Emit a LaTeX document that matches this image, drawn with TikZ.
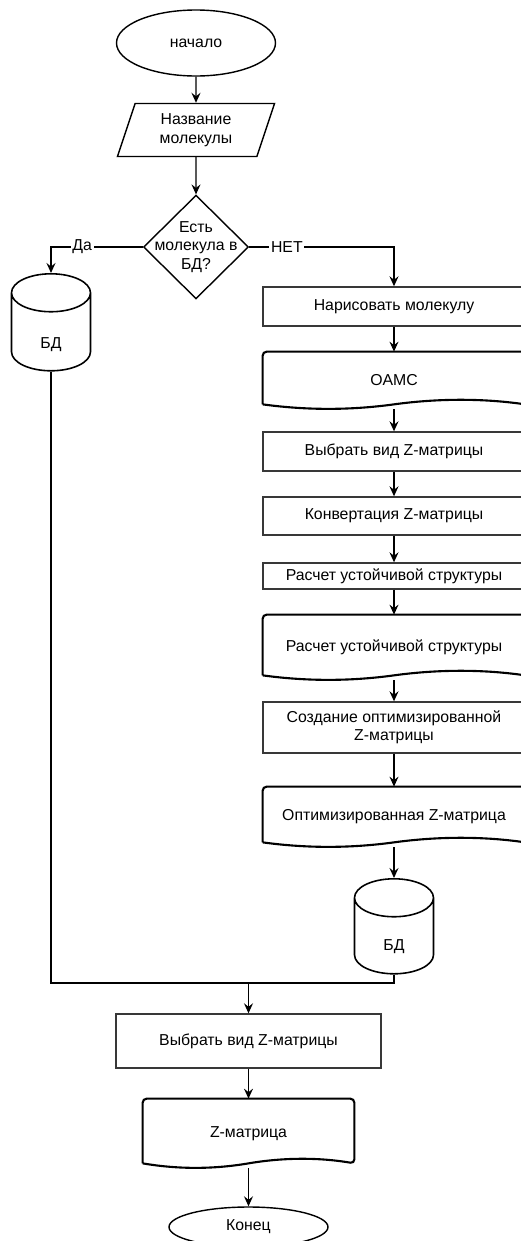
\documentclass[tikz,border=0pt]{standalone}
\usepackage{fontspec}
\setmainfont{Liberation Sans}
\usepackage{tikz}
\usetikzlibrary{
	arrows.meta,
	calc,
	shapes,
}
\definecolor{boxline}{rgb}{0.22, 0.22, 0.22}

% outline of a document block around a named node
\newcommand{\docoutline}[1]{%
\draw[line width=1.2pt] ($(#1.south west)+(0,1mm)$) [rounded corners=0.8mm] -- (#1.north west) -- (#1.north east)
	-- ($(#1.south east)+(0,1mm)$) [sharp corners]
	.. controls ($(#1.south west)!0.8333!(#1.south east)+(0,2.2mm)$) and ($(#1.south west)!0.6667!(#1.south east)+(0,2.2mm)$) .. ($(#1.south)+(0,1mm)$)
	.. controls ($(#1.south west)!0.3333!(#1.south east)+(0,-0.2mm)$) and ($(#1.south west)!0.1667!(#1.south east)+(0,-0.2mm)$) .. ($(#1.south west)+(0,1mm)$);}

\begin{document}
\begin{tikzpicture}[x=0.2mm, y=-0.2mm,
	every node/.style={font=\fontsize{9}{10.5}\selectfont, align=center},
	line/.style={draw, line width=0.8pt, -{Stealth[length=2mm, width=1.8mm, inset=0.7mm]}},
	proc/.style={rectangle, draw=boxline, line width=0.8pt, minimum width=52.4mm, inner sep=1pt},
	term/.style={ellipse, draw, line width=0.8pt, minimum width=31.8mm},
	base/.style={cylinder, draw, line width=0.9pt, shape border rotate=90, aspect=1.8, inner sep=0pt, anchor=north, minimum width=15.8mm, minimum height=19.4mm},
	doc/.style={rectangle, minimum width=52.4mm, inner sep=1pt},
	yesno/.style={fill=white, inner sep=1pt},
]
\useasboundingbox (0,0) rectangle (520,1241);

% start and input
\node[term, minimum height=13.2mm] (start) at (196,43) {начало};
\node[trapezium, draw, line width=0.8pt, trapezium left angle=73, trapezium right angle=107, trapezium stretches=true, minimum width=31.6mm, minimum height=10.6mm, inner sep=1pt] (molname) at (196,130) {Название\\молекулы};

% question
\node[diamond, draw, line width=0.8pt, inner sep=-1.5mm, minimum width=21mm, minimum height=20.6mm] (indb) at (196,247) {Есть\\молекула в\\БД?};

% left branch: database
\node[base] (dbleft) at (51,273) {\smash{\raisebox{-3.2mm}{БД}}};

% right branch
\node[proc, minimum height=7.8mm] (drawmol) at (394,306.5) {Нарисовать молекулу};
\node[doc, minimum height=11.4mm] (oamc) at (394,380.5) {OAMC};
\node[proc, minimum height=7.8mm] (zchoose) at (394,451.5) {Выбрать вид Z-матрицы};
\node[proc, minimum height=7.6mm] (zconv) at (394,516) {Конвертация Z-матрицы};
\node[proc, minimum height=5.2mm] (stable) at (394,576) {Расчет устойчивой структуры};
\node[doc, minimum height=13mm] (stabledoc) at (394,647.5) {Расчет устойчивой структуры};
\node[proc, minimum height=10.2mm] (zopt) at (394,727.5) {Создание оптимизированной\\Z-матрицы};
\node[doc, minimum height=12mm] (zoptdoc) at (394,817) {Оптимизированная Z-матрица};
\node[base, minimum height=19mm] (dbright) at (394,878) {\smash{\raisebox{-2.8mm}{БД}}};

% document outlines
\docoutline{oamc}
\docoutline{stabledoc}
\docoutline{zoptdoc}

% output part
\coordinate (merge) at (248.5,983);
\node[proc, minimum width=53mm, minimum height=10.8mm] (zselect) at (248.5,1041) {Выбрать вид Z-матрицы};
\node[doc, minimum width=42.2mm, minimum height=13.8mm] (zdoc) at (248.5,1133.5) {Z-матрица};
\docoutline{zdoc}
\node[term, minimum height=8mm] (stop) at (248.5,1227) {Конец};

% connectors
\draw[line] (start) -- (molname);
\draw[line] (molname) -- (indb);
\draw[line] (indb.west) -| node[yesno, pos=0.33] {Да} (dbleft.north);
\draw[line] (indb.east) -| node[yesno, pos=0.13] {НЕТ} (drawmol.north);
\draw[line] (drawmol) -- (oamc);
\draw[line] (oamc) -- (zchoose);
\draw[line] (zchoose) -- (zconv);
\draw[line] (zconv) -- (stable);
\draw[line] (stable) -- (stabledoc);
\draw[line] (stabledoc) -- (zopt);
\draw[line] (zopt) -- (zoptdoc);
\draw[line] (zoptdoc) -- (dbright);
\draw[line width=0.8pt] (dbleft.south) |- (merge) -| (dbright.south);
\draw[line] (merge) -- (zselect);
\draw[line] (zselect) -- (zdoc);
\draw[line] (zdoc) -- (stop);
\end{tikzpicture}
\end{document}
